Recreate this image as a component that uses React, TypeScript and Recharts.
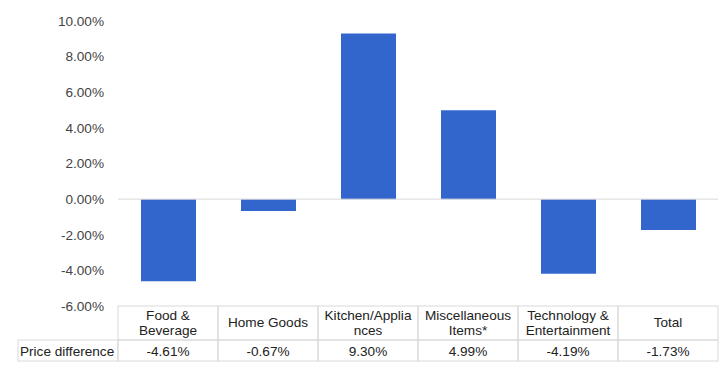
import { BarChart, Bar, XAxis, YAxis, ReferenceLine } from 'recharts';

const categories = ['Food &\nBeverage', 'Home Goods', 'Kitchen/Applia\nnces', 'Miscellaneous\nItems*', 'Technology &\nEntertainment', 'Total'];
const priceDiff = [-4.61, -0.67, 9.3, 4.99, -4.19, -1.73];
const yTicks = [-6, -4, -2, 0, 2, 4, 6, 8, 10];
const rowLabel = 'Price difference';

const data = categories.map((name, i) => ({ name, value: priceDiff[i] }));

const FONT = '"Liberation Sans", Arial, sans-serif';
const FS = 13.6;
const BORDER = '#d9d9d9';

// header row + value row of the data table, drawn under each category
const TableTick = (props: any) => {
  const { x, y, index, payload } = props;
  const top = y;
  const mid = y + 34;
  const bot = y + 55;
  const lines = String(payload.value).split('\n');
  const w = 100;
  return (
    <g>
      <rect x={x - w / 2} y={top} width={w} height={mid - top} fill="none" stroke={BORDER} />
      <rect x={x - w / 2} y={mid} width={w} height={bot - mid} fill="none" stroke={BORDER} />
      {lines.map((l, i) => (
        <text
          key={i}
          x={x}
          y={top + 17 + (i - (lines.length - 1) / 2) * 15 + 4}
          textAnchor="middle"
          fontSize={FS}
          fontFamily={FONT}
          fill="#222"
        >
          {l}
        </text>
      ))}
      <text x={x} y={mid + 15.5} textAnchor="middle" fontSize={FS} fontFamily={FONT} fill="#222">
        {priceDiff[index].toFixed(2)}%
      </text>
      {index === 0 && (
        <g>
          <rect x={x - w / 2 - 100} y={mid} width={100} height={bot - mid} fill="none" stroke={BORDER} />
          <text x={x - w / 2 - 98} y={mid + 15.5} fontSize={FS} fontFamily={FONT} fill="#222">
            {rowLabel}
          </text>
        </g>
      )}
    </g>
  );
};

export default function App() {
  return (
    <div style={{ position: 'absolute', left: 0, top: 0 }}>
      <BarChart
        width={723}
        height={369}
        data={data}
        margin={{ top: 21, right: 5, left: 0, bottom: 0 }}
        barSize={55}
      >
        <XAxis
          dataKey="name"
          axisLine={false}
          tickLine={false}
          tickSize={0}
          tickMargin={0}
          height={63}
          interval={0}
          tick={<TableTick />}
        />
        <YAxis
          width={118}
          domain={[-6, 10]}
          ticks={yTicks}
          axisLine={false}
          tickLine={false}
          tickMargin={8}
          tickFormatter={(v: number) => `${v.toFixed(2)}%`}
          tick={{ fontSize: FS, fontFamily: FONT, fill: '#444' }}
        />
        <ReferenceLine y={0} stroke={BORDER} strokeWidth={1} />
        <Bar dataKey="value" fill="#3366cc" isAnimationActive={false} />
      </BarChart>
    </div>
  );
}
